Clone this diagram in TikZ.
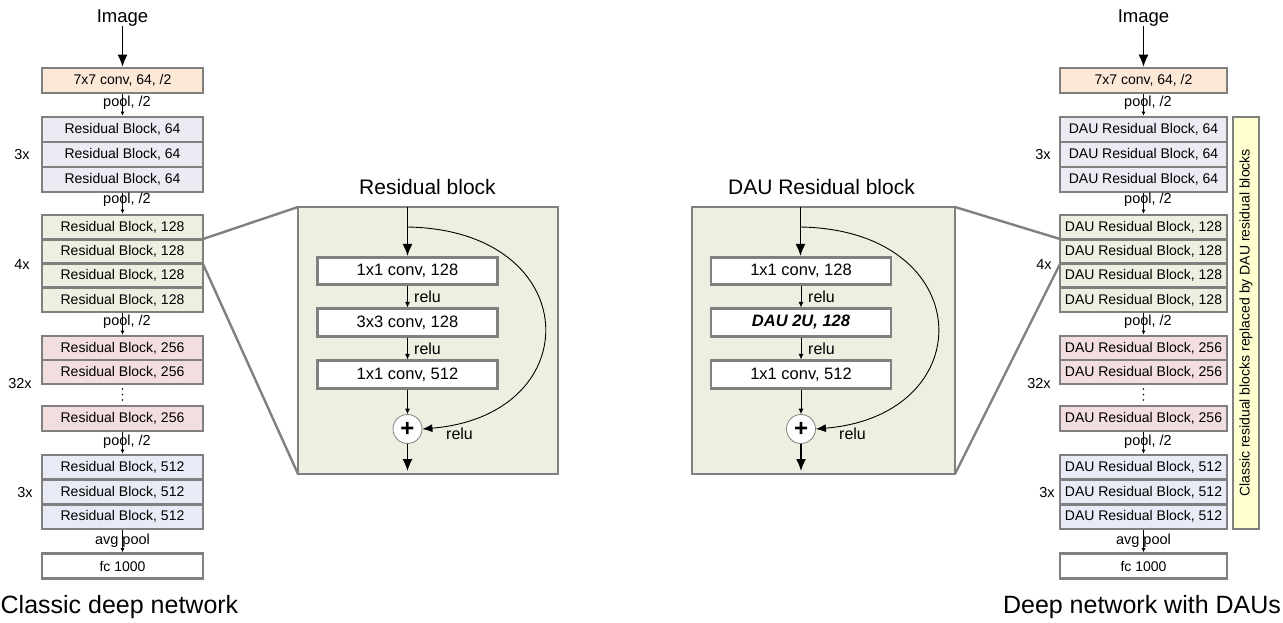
\documentclass[tikz,border=0pt]{standalone}
\usepackage{fontspec}
\setmainfont{Liberation Sans}
\usetikzlibrary{arrows.meta}
\definecolor{bord}{HTML}{808080}
\definecolor{cpeach}{HTML}{FCE8D6}
\definecolor{clav}{HTML}{ECEAF2}
\definecolor{cgreen}{HTML}{EBF0E0}
\definecolor{cpink}{HTML}{F2DEDE}
\definecolor{cblue}{HTML}{E8EBF5}
\definecolor{cyel}{HTML}{FFFFD0}
\tikzset{
  blk/.style={draw=bord, line width=2.6pt, rectangle, inner sep=0pt, minimum width=161pt, minimum height=#1, font=\fontsize{14}{16}\selectfont},
  blk/.default=25pt,
  rblk/.style={blk=#1, minimum width=167pt},
  rblk/.default=25pt,
  lbl/.style={font=\fontsize{14.5}{16}\selectfont, inner sep=0pt},
  ttl/.style={font=\fontsize{18.5}{20}\selectfont, inner sep=0pt},
  ptitle/.style={font=\fontsize{21}{24}\selectfont, inner sep=0pt},
  captxt/.style={font=\fontsize{25}{28}\selectfont, inner sep=0pt},
  panel/.style={draw=bord, line width=2.6pt, fill=cgreen, minimum width=#1, minimum height=267pt, inner sep=0pt},
  ibox/.style={draw=bord, line width=2.6pt, fill=white, minimum width=180pt, minimum height=27.5pt, inner sep=0pt, font=\fontsize{16.5}{18}\selectfont},
  rl/.style={font=\fontsize{16}{18}\selectfont, inner sep=0pt, anchor=west},
  sarr/.style={-{Latex[length=4pt,width=4pt]}, line width=0.7pt},
  barr/.style={-{Latex[length=12pt,width=10pt]}, line width=1.3pt},
  marr/.style={-{Latex[length=5.5pt,width=5pt]}, line width=0.8pt},
  conn/.style={draw=bord, line width=2.4pt},
  plus/.style={circle, draw=bord, line width=0.8pt, fill=white, minimum size=29pt, inner sep=0pt, font=\fontsize{24}{24}\selectfont\bfseries},
  dotc/.style={circle, fill=black, inner sep=0pt, minimum size=1.8pt},
}
\begin{document}
\begin{tikzpicture}[x=1pt,y=-1pt]
\useasboundingbox (0,0) rectangle (1283,623);

% ---------------- connector lines (behind) ----------------
\coordinate (lA) at (203,239);
\coordinate (lB) at (203,264);
\coordinate (rA) at (1060,239);
\coordinate (rB) at (1060,264);
\coordinate (lpNW) at (298,207);
\coordinate (lpSW) at (298,474);
\coordinate (rpNE) at (955,207);
\coordinate (rpSE) at (955,474);
\draw[conn] (lA) -- (lpNW);
\draw[conn] (lB) -- (lpSW);
\draw[conn] (rA) -- (rpNE);
\draw[conn] (rB) -- (rpSE);

% ---------------- left column ----------------
\node[ttl] (limg) at (122.5,18) {Image};
\node[blk, fill=cpeach] (lconv) at (122.5,80.5) {7x7 conv, 64, /2};
\node[lbl] (lp1) at (127,103) {pool, /2};
\node[blk, fill=clav] (l64a) at (122.5,129.5) {Residual Block, 64};
\node[blk, fill=clav] (l64b) at (122.5,154.5) {Residual Block, 64};
\node[blk, fill=clav] (l64c) at (122.5,179.5) {Residual Block, 64};
\node[lbl] (lp2) at (127,200) {pool, /2};
\node[blk=24.25pt, fill=cgreen] (l128a) at (122.5,227.1) {Residual Block, 128};
\node[blk=24.25pt, fill=cgreen] (l128b) at (122.5,251.4) {Residual Block, 128};
\node[blk=24.25pt, fill=cgreen] (l128c) at (122.5,275.6) {Residual Block, 128};
\node[blk=24.25pt, fill=cgreen] (l128d) at (122.5,299.9) {Residual Block, 128};
\node[lbl] (lp3) at (127,322) {pool, /2};
\node[blk=24pt, fill=cpink] (l256a) at (122.5,348) {Residual Block, 256};
\node[blk=24pt, fill=cpink] (l256b) at (122.5,372) {Residual Block, 256};
\node[dotc] (ld1) at (122.5,389) {};
\node[dotc] (ld2) at (122.5,394.5) {};
\node[dotc] (ld3) at (122.5,400) {};
\node[blk, fill=cpink] (l256c) at (122.5,418.5) {Residual Block, 256};
\node[lbl] (lp4) at (127,442) {pool, /2};
\node[blk=24.67pt, fill=cblue] (l512a) at (122.5,467.3) {Residual Block, 512};
\node[blk=24.67pt, fill=cblue] (l512b) at (122.5,492) {Residual Block, 512};
\node[blk=24.67pt, fill=cblue] (l512c) at (122.5,516.7) {Residual Block, 512};
\node[lbl] (lp5) at (122.5,541) {avg pool};
\node[blk, fill=white] (lfc) at (122.5,566) {fc 1000};
\node[lbl] (lm1) at (22,155) {3x};
\node[lbl] (lm2) at (22,265) {4x};
\node[lbl] (lm3) at (20,384) {32x};
\node[lbl] (lm4) at (25,493) {3x};
\node[captxt] (lcap) at (119.5,607) {Classic deep network};

\draw[barr] (limg) -- (lconv);
\draw[sarr] (lconv) -- (l64a);
\draw[sarr] (l64c) -- (l128a);
\draw[sarr] (l128d) -- (l256a);
\draw[sarr] (l256c) -- (l512a);
\draw[sarr] (l512c) -- (lfc);

% ---------------- right column ----------------
\node[ttl] (rimg) at (1143.5,18) {Image};
\node[rblk, fill=cpeach] (rconv) at (1143.5,80.5) {7x7 conv, 64, /2};
\node[lbl] (rp1) at (1148,103) {pool, /2};
\node[rblk, fill=clav] (r64a) at (1143.5,129.5) {DAU Residual Block, 64};
\node[rblk, fill=clav] (r64b) at (1143.5,154.5) {DAU Residual Block, 64};
\node[rblk, fill=clav] (r64c) at (1143.5,179.5) {DAU Residual Block, 64};
\node[lbl] (rp2) at (1148,200) {pool, /2};
\node[rblk=24.25pt, fill=cgreen] (r128a) at (1143.5,227.1) {DAU Residual Block, 128};
\node[rblk=24.25pt, fill=cgreen] (r128b) at (1143.5,251.4) {DAU Residual Block, 128};
\node[rblk=24.25pt, fill=cgreen] (r128c) at (1143.5,275.6) {DAU Residual Block, 128};
\node[rblk=24.25pt, fill=cgreen] (r128d) at (1143.5,299.9) {DAU Residual Block, 128};
\node[lbl] (rp3) at (1148,322) {pool, /2};
\node[rblk=24pt, fill=cpink] (r256a) at (1143.5,348) {DAU Residual Block, 256};
\node[rblk=24pt, fill=cpink] (r256b) at (1143.5,372) {DAU Residual Block, 256};
\node[dotc] (rd1) at (1143.5,389) {};
\node[dotc] (rd2) at (1143.5,394.5) {};
\node[dotc] (rd3) at (1143.5,400) {};
\node[rblk, fill=cpink] (r256c) at (1143.5,418.5) {DAU Residual Block, 256};
\node[lbl] (rp4) at (1148,442) {pool, /2};
\node[rblk=24.67pt, fill=cblue] (r512a) at (1143.5,467.3) {DAU Residual Block, 512};
\node[rblk=24.67pt, fill=cblue] (r512b) at (1143.5,492) {DAU Residual Block, 512};
\node[rblk=24.67pt, fill=cblue] (r512c) at (1143.5,516.7) {DAU Residual Block, 512};
\node[lbl] (rp5) at (1143.5,541) {avg pool};
\node[rblk, fill=white] (rfc) at (1143.5,566) {fc 1000};
\node[lbl] (rm1) at (1043,155) {3x};
\node[lbl] (rm2) at (1044,265) {4x};
\node[lbl] (rm3) at (1039,384) {32x};
\node[lbl] (rm4) at (1047,493) {3x};
\node[captxt] (rcap) at (1142,607) {Deep network with DAUs};

\draw[barr] (rimg) -- (rconv);
\draw[sarr] (rconv) -- (r64a);
\draw[sarr] (r64c) -- (r128a);
\draw[sarr] (r128d) -- (r256a);
\draw[sarr] (r256c) -- (r512a);
\draw[sarr] (r512c) -- (rfc);

% yellow bar
\node[draw=bord, line width=2.6pt, fill=cyel, minimum width=26pt, minimum height=412pt, inner sep=0pt] (ybar) at (1246,323) {};
\node[rotate=90, font=\fontsize{14}{16}\selectfont, inner sep=0pt] (ytxt) at (ybar.center) {Classic residual blocks replaced by DAU residual blocks};

% ---------------- left panel ----------------
\node[ptitle] (lpt) at (427.5,187) {Residual block};
\node[panel=260pt] (lpanel) at (428,340.5) {};
\coordinate (lin) at (407.5,207);
\node[ibox] (lb1) at (407.5,271) {1x1 conv, 128};
\node[ibox] (lb2) at (407.5,322.5) {3x3 conv, 128};
\node[ibox] (lb3) at (407.5,374.5) {1x1 conv, 512};
\node[plus] (lsum) at (407.5,429) {+};
\coordinate (lout) at (407.5,471);
\coordinate (lsk) at (407.5,227);
\draw[barr] (lin) -- (lb1);
\draw[marr] (lb1) -- (lb2);
\draw[marr] (lb2) -- (lb3);
\draw[marr] (lb3) -- (lsum);
\draw[barr] (lsum) -- (lout);
\draw[-{Latex[length=10pt,width=8pt]}, line width=0.9pt] (lsk) .. controls (585,230) and (590,415) .. (lsum.east);
\node[rl] (lr1) at (414,297) {relu};
\node[rl] (lr2) at (414,349) {relu};
\node[rl] (lr3) at (446,434) {relu};

% ---------------- right panel ----------------
\node[ptitle] (rpt) at (821.5,187) {DAU Residual block};
\node[panel=263pt] (rpanel) at (823.5,340.5) {};
\coordinate (rin) at (800.5,207);
\node[ibox] (rb1) at (801,271) {1x1 conv, 128};
\node[ibox] (rb2) at (801,322.5) {\bfseries\itshape DAU 2U, 128};
\node[ibox] (rb3) at (801,374.5) {1x1 conv, 512};
\node[plus] (rsum) at (801,429) {+};
\coordinate (rout) at (801,471);
\coordinate (rsk) at (800.5,227);
\draw[barr] (rin) -- (rin |- rb1.north);
\draw[marr] (rb1) -- (rb2);
\draw[marr] (rb2) -- (rb3);
\draw[marr] (rb3) -- (rsum);
\draw[barr] (rsum) -- (rout);
\draw[-{Latex[length=10pt,width=8pt]}, line width=0.9pt] (rsk) .. controls (978,230) and (983,415) .. (rsum.east);
\node[rl] (rr1) at (808,297) {relu};
\node[rl] (rr2) at (808,349) {relu};
\node[rl] (rr3) at (839,434) {relu};
\end{tikzpicture}
\end{document}
